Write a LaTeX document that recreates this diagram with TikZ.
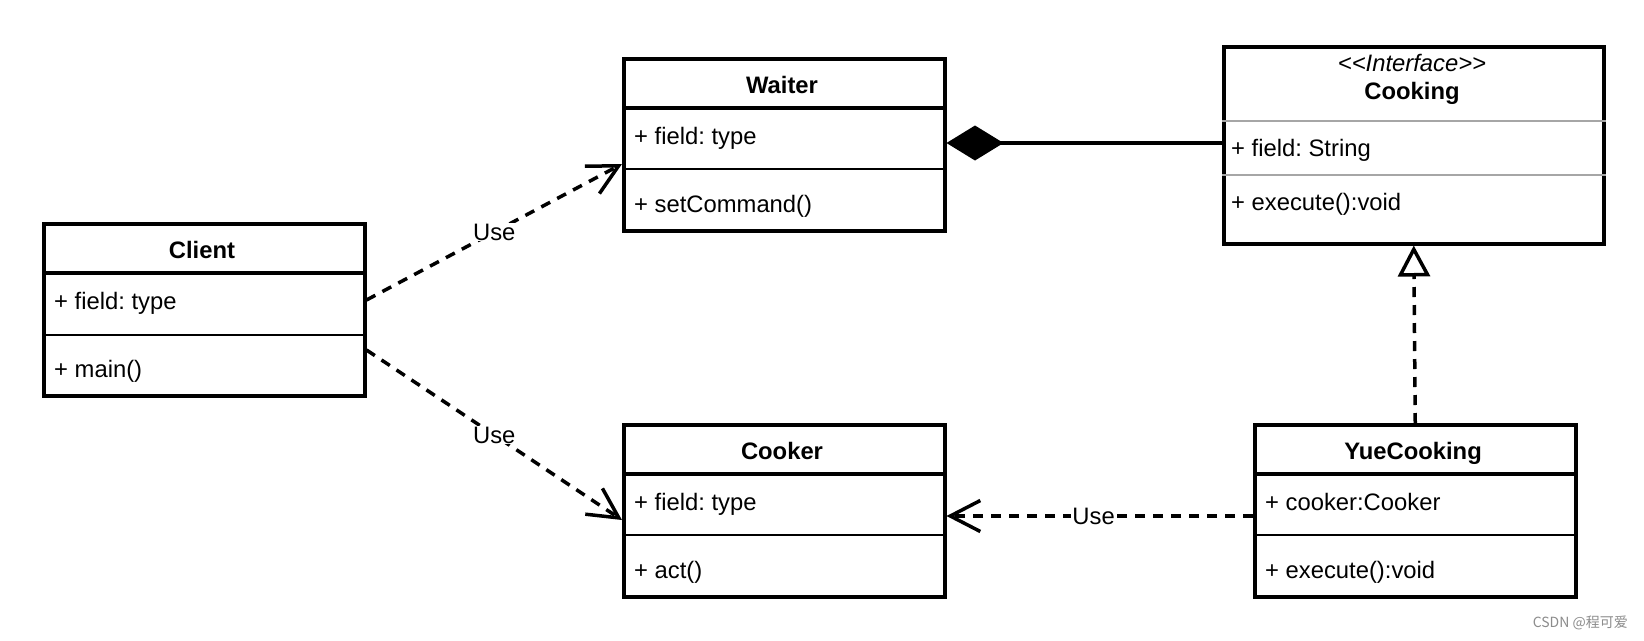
\documentclass[tikz,border=0pt]{standalone}
\usepackage{fontspec}
\setmainfont{Liberation Sans}
\newfontfamily\cjk{Noto Sans CJK SC}
\usetikzlibrary{arrows.meta,calc}
\frenchspacing
\begin{document}
\begin{tikzpicture}[x=1pt,y=-1pt,
  classbox/.style={draw, line width=3.5pt, anchor=north west, inner sep=0pt, minimum width=321pt, minimum height=172pt},
  txt/.style={inner sep=0pt, font=\fontsize{23.8}{28}\selectfont},
  fld/.style={txt, anchor=base west},
  ttl/.style={txt, anchor=base, font=\fontsize{23.8}{28}\selectfont\bfseries},
  hdiv/.style={line width=3.5pt},
  mdiv/.style={line width=2.2pt},
  gdiv/.style={line width=1.6pt, draw=black!35},
  dep/.style={line width=3.5pt, dash pattern=on 10pt off 8pt, -{Straight Barb[length=30pt, width=31pt, line width=3.5pt]}},
  lbl/.style={txt, fill=white, inner sep=1pt},
]
\useasboundingbox (0,0) rectangle (1644,640);
\fill[white] (0,0) rectangle (1644,640);

% Client
\node[classbox] (client) at (42,222) {};
\draw[hdiv] ([yshift=-51pt]client.north west) -- ([yshift=-51pt]client.north east);
\draw[mdiv] ([yshift=-113pt]client.north west) -- ([yshift=-113pt]client.north east);
\node[ttl] (clientT) at (202,258) {Client};
\node[fld] (clientF) at (54,309) {+ field: type};
\node[fld] (clientM) at (54,377) {+ main()};

% Waiter
\node[classbox] (waiter) at (622,57) {};
\draw[hdiv] ([yshift=-51pt]waiter.north west) -- ([yshift=-51pt]waiter.north east);
\draw[mdiv] ([yshift=-112pt]waiter.north west) -- ([yshift=-112pt]waiter.north east);
\node[ttl] (waiterT) at (782,93) {Waiter};
\node[fld] (waiterF) at (634,144) {+ field: type};
\node[fld] (waiterM) at (634,212) {+ setCommand()};

% Cooker
\node[classbox] (cooker) at (622,423) {};
\draw[hdiv] ([yshift=-51pt]cooker.north west) -- ([yshift=-51pt]cooker.north east);
\draw[mdiv] ([yshift=-112pt]cooker.north west) -- ([yshift=-112pt]cooker.north east);
\node[ttl] (cookerT) at (782,459) {Cooker};
\node[fld] (cookerF) at (634,510) {+ field: type};
\node[fld] (cookerM) at (634,578) {+ act()};

% YueCooking
\node[classbox] (yue) at (1253,423) {};
\draw[hdiv] ([yshift=-51pt]yue.north west) -- ([yshift=-51pt]yue.north east);
\draw[mdiv] ([yshift=-112pt]yue.north west) -- ([yshift=-112pt]yue.north east);
\node[ttl] (yueT) at (1413,459) {YueCooking};
\node[fld] (yueF) at (1265,510) {+ cooker:Cooker};
\node[fld] (yueM) at (1265,578) {+ execute():void};

% Cooking (interface)
\node[classbox, minimum width=380pt, minimum height=197pt] (cooking) at (1222,45) {};
\draw[gdiv] ([yshift=-76pt]cooking.north west) -- ([yshift=-76pt]cooking.north east);
\draw[gdiv] ([yshift=-130pt]cooking.north west) -- ([yshift=-130pt]cooking.north east);
\node[txt, anchor=base, font=\fontsize{23.8}{28}\selectfont\itshape] (cookingS) at (1412,71) {<{}<Interface>{}>};
\node[ttl] (cookingT) at (1412,99) {Cooking};
\node[fld] (cookingF) at (1231,156) {+ field: String};
\node[fld] (cookingM) at (1231,210) {+ execute():void};

% Connectors
\draw[dep] ([yshift=-78pt]client.north east) -- node[lbl] (use1) {Use} ([yshift=-107pt]waiter.north west);
\draw[dep] ([yshift=-128pt]client.north east) -- node[lbl] (use2) {Use} ([yshift=-97pt]cooker.north west);
\draw[dep] ([yshift=-93pt]yue.north west) -- node[lbl, pos=0.52] (use3) {Use} ([yshift=-93pt]cooker.north east);
\draw[line width=3.5pt, -{Diamond[length=57pt, width=35pt, line width=0pt, fill=black]}]
  ([yshift=-98pt]cooking.north west) -- ([yshift=-86pt]waiter.north east);
\draw[line width=3.5pt, dash pattern=on 10pt off 8pt, -{Triangle[open, length=31pt, width=32pt, line width=3.5pt, fill=white]}]
  (yue.north) -- (cooking.south);

% watermark
\node[inner sep=0pt, anchor=east, text=black!45, font=\cjk\fontsize{14}{16}\selectfont] (wm) at (1628,623) {CSDN @程可爱};
\end{tikzpicture}
\end{document}
